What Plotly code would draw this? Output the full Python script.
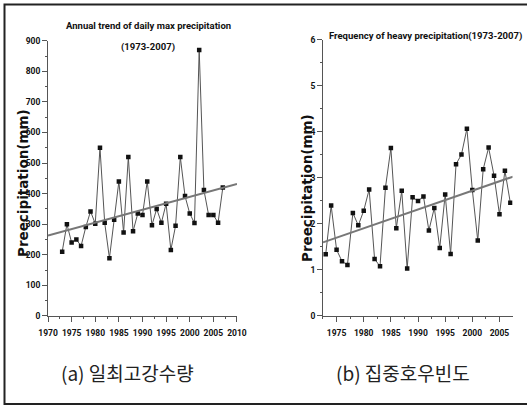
import plotly.graph_objects as go

years = list(range(1973, 2008))
max_precip = [210, 300, 240, 250, 229, 291, 342, 302, 550, 305,
              189, 315, 440, 273, 520, 277, 335, 330, 440, 297,
              350, 305, 367, 216, 295, 520, 392, 335, 304, 870,
              412, 330, 330, 305, 420]
heavy_freq = [1.34, 2.40, 1.44, 1.19, 1.11, 2.24, 1.97, 2.29, 2.75, 1.24,
              1.08, 2.79, 3.65, 1.91, 2.72, 1.03, 2.58, 2.50, 2.60, 1.86,
              2.35, 1.48, 2.64, 1.35, 3.30, 3.51, 4.07, 2.74, 1.64, 3.19,
              3.66, 3.05, 2.21, 3.16, 2.46]
trend_a_x = [1970, 2010]
trend_a_y = [263, 432]
trend_b_x = [1972.5, 2007.5]
trend_b_y = [1.60, 3.03]

title_a1 = "Annual trend of daily max precipitation"
title_a2 = "(1973-2007)"
title_b = "Frequency of heavy precipitation(1973-2007)"
ylab = "Preecipitation(mm)"
cap_a = "(a) 일최고강수량"
cap_b = "(b) 집중호우빈도"

NARROW = "Roboto, Liberation Sans, sans-serif"

fig = go.Figure()
line_style = dict(color="#555555", width=1)
mk = dict(symbol="square", size=4.5, color="#111111")

fig.add_trace(go.Scatter(x=years, y=max_precip, mode="lines+markers",
                         line=line_style, marker=mk, xaxis="x", yaxis="y",
                         showlegend=False))
fig.add_trace(go.Scatter(x=trend_a_x, y=trend_a_y, mode="lines",
                         line=dict(color="#777777", width=2), xaxis="x", yaxis="y",
                         showlegend=False))
fig.add_trace(go.Scatter(x=years, y=heavy_freq, mode="lines+markers",
                         line=line_style, marker=mk, xaxis="x2", yaxis="y2",
                         showlegend=False))
fig.add_trace(go.Scatter(x=trend_b_x, y=trend_b_y, mode="lines",
                         line=dict(color="#777777", width=2), xaxis="x2", yaxis="y2",
                         showlegend=False))

tickfont = dict(family=NARROW, size=8.5, color="#111111", weight="bold")
axis_common = dict(showgrid=False, zeroline=False, showline=True,
                   linecolor="#555555", linewidth=1, ticks="outside",
                   ticklen=5, tickcolor="#555555", tickfont=tickfont,
                   tickangle=0, automargin=False)
minor = dict(ticks="outside", ticklen=2, tickcolor="#555555", showgrid=False)

title_font = dict(family=NARROW, size=9.5, color="#111111", weight="bold")
ylab_font = dict(family="DejaVu Sans, sans-serif", size=13.5, color="#111111",
                 weight="bold")
cap_font = dict(family="Noto Sans CJK KR, sans-serif", size=19, color="#222222")


def ann(text, x, y, font, angle=0):
    return dict(text=text, x=x / 527, y=1 - y / 408, xref="paper", yref="paper",
                xanchor="center", yanchor="middle", showarrow=False,
                font=font, textangle=angle)


def px_x(v):
    return v / 527


def px_y(v):
    return 1 - v / 408


fig.update_layout(
    width=527, height=408,
    margin=dict(l=0, r=0, t=0, b=0),
    paper_bgcolor="white", plot_bgcolor="white",
    xaxis=dict(domain=[0.0911, 0.4497], range=[1970, 2010], dtick=5, tick0=1970,
               anchor="y", ticklabelstandoff=4,
               minor=dict(dtick=2.5, **minor), **axis_common),
    yaxis=dict(domain=[0.2255, 0.9002], range=[0, 900], dtick=100,
               anchor="x", minor=dict(dtick=50, **minor), **axis_common),
    xaxis2=dict(domain=[0.6129, 0.9725], range=[1972.5, 2007.4], dtick=5, tick0=1975,
                anchor="y2", ticklabelstandoff=4,
                minor=dict(dtick=2.5, **minor), **axis_common),
    yaxis2=dict(domain=[0.2255, 0.902], range=[0, 6], dtick=1,
                anchor="x2", minor=dict(dtick=0.5, **minor), **axis_common),
    annotations=[
        ann(title_a1, 148, 25, title_font),
        ann(title_a2, 148, 47, title_font),
        ann(title_b, 425, 36, title_font),
        ann(ylab, 23, 183, ylab_font, -90),
        ann(ylab, 307, 188, ylab_font, -90),
        ann(cap_a, 127, 372, cap_font),
        ann(cap_b, 403, 372, cap_font),
    ],
    shapes=[
        dict(type="rect", xref="paper", yref="paper", layer="above",
             x0=px_x(4.5), x1=1.1, y0=px_y(404), y1=px_y(4.5),
             line=dict(color="#222222", width=2)),
    ],
)

fig.write_html("out.html",
               config={"displayModeBar": False},
               post_script="document.body.style.margin='0';"
                           "document.body.style.overflow='hidden';")
